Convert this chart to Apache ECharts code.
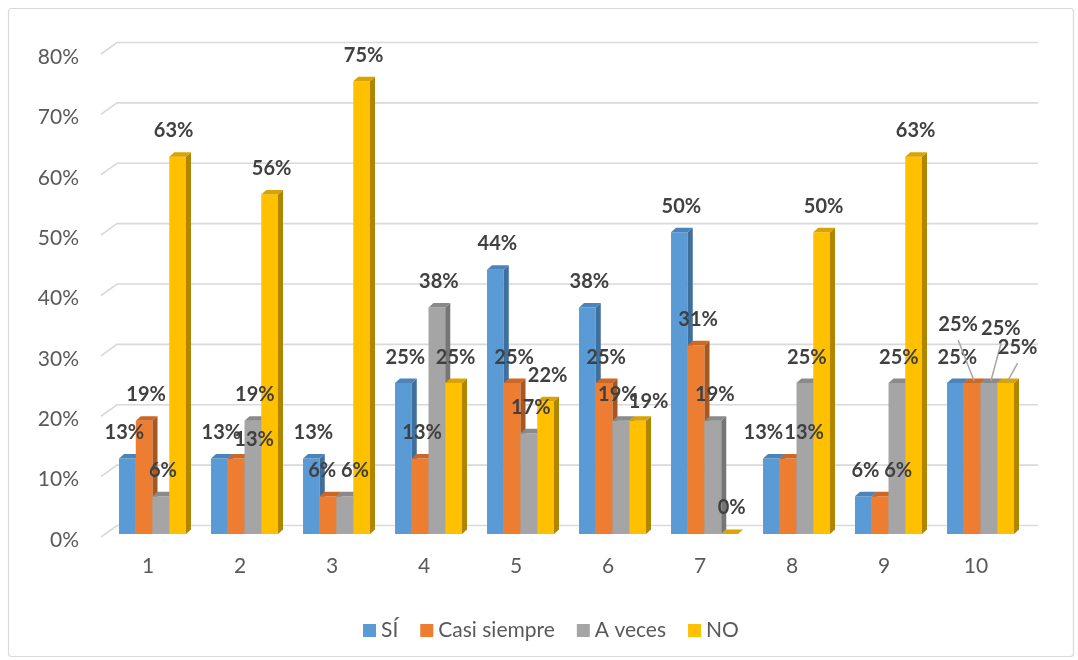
<!DOCTYPE html>
<html>
<head>
<meta charset="utf-8">
<script src="https://cdn.jsdelivr.net/npm/echarts@6/dist/echarts.min.js"></script>
<style>
html,body{margin:0;padding:0;background:#fff;}
#chart{width:1078px;height:660px;}
</style>
</head>
<body>
<div id="chart"></div>
<script>
// ---- data ----
const categories = ['1','2','3','4','5','6','7','8','9','10'];
const seriesNames = ['SÍ','Casi siempre','A veces','NO'];
const si          = [12.5, 12.5, 12.5, 25,   43.75, 37.5,  50,    12.5, 6.25, 25];
const casiSiempre = [18.75,12.5, 6.25, 12.5, 25,    25,    31.25, 12.5, 6.25, 25];
const aVeces      = [6.25, 18.75,6.25, 37.5, 16.7,  18.75, 18.75, 25,   25,   25];
const no          = [62.5, 56.25,75,   25,   22,    18.75, 0,     50,   62.5, 25];
const yTicks      = [0,10,20,30,40,50,60,70,80];

// ---- styles ----
const faceColors = [
  {front:'#5B9BD5', side:'#3F6F9C', top:'#4B83BA'},
  {front:'#ED7D31', side:'#A9561F', top:'#CC6726'},
  {front:'#A5A5A5', side:'#767676', top:'#8A8A8A'},
  {front:'#FFC000', side:'#B08500', top:'#D9A300'}
];
// label nudges (Excel placement), keyed "series-category"
const labelNudge = {
  '0-0':[-5,0], '0-7':[-10,0],
  '1-1':[16,7], '1-2':[-8,0], '1-7':[14,0], '1-8':[16,0], '1-9':[-16,-33,true],
  '2-2':[8,0], '2-5':[-5,0], '2-9':[10,-29,true],
  '3-0':[-6,0], '3-5':[9,7], '3-9':[10,-10,true]
};
const DX = 5, DY = 4.5;
const FONT = 'Lato, "Liberation Sans", sans-serif';

function barGeom(api, sIdx){
  const cat = api.value(0), val = api.value(1);
  const band = api.size([1,0])[0];
  const cx = api.coord([cat,0])[0];
  const base = api.coord([cat,0])[1];
  const top = api.coord([cat,val])[1];
  const w = band*0.182;
  const x0 = cx - band*0.315 + sIdx*w;
  return {cat, val, w, x0, top, base};
}

function barRender(sIdx){
  const c = faceColors[sIdx];
  return function(params, api){
    const g = barGeom(api, sIdx);
    const {x0, w, top, base} = g;
    return {type:'group', children:[
      {type:'rect', shape:{x:x0, y:top, width:w, height:base-top}, style:{fill:c.front}},
      {type:'polygon', shape:{points:[[x0+w,top],[x0+w+DX,top-DY],[x0+w+DX,base-DY],[x0+w,base]]}, style:{fill:c.side}},
      {type:'polygon', shape:{points:[[x0,top],[x0+DX,top-DY],[x0+w+DX,top-DY],[x0+w,top]]}, style:{fill:c.top}}
    ]};
  };
}

function labelRender(sIdx){
  return function(params, api){
    const g = barGeom(api, sIdx);
    const n = labelNudge[sIdx+'-'+g.cat] || [0,0,false];
    const bx = g.x0 + g.w/2 + 2;
    const lx = bx + n[0];
    const ly = g.top - 26 + n[1];
    const children = [];
    if (n[2]) {
      children.push({type:'line', shape:{x1:lx, y1:ly+16, x2:bx, y2:g.top-2},
        style:{stroke:'#A6A6A6', lineWidth:1.5}});
    }
    children.push({type:'text', x:lx, y:ly, style:{
      text: Math.round(g.val)+'%', font:'bold 20px '+FONT, fill:'#404040',
      align:'center', verticalAlign:'middle', textAlign:'center', textVerticalAlign:'middle'}});
    return {type:'group', children};
  };
}

function gridRender(params, api){
  const v = api.value(1);
  const cs = params.coordSys;
  const y = api.coord([0, v])[1];
  const fy = y + 3;
  const by = y - 8.5;
  return {type:'polyline', shape:{points:[[cs.x-1, fy],[cs.x+15, by],[cs.x+cs.width+16, by]]},
    style:{stroke:'#D9D9D9', lineWidth:1.6, fill:null}};
}

const allData = [si, casiSiempre, aVeces, no];
const series = [{
  type:'custom', name:'grid', renderItem: gridRender, z:1, silent:true,
  data: yTicks.map(v=>[0,v]), encode:{x:0,y:1}
}];
allData.forEach((arr, s)=>{
  series.push({type:'custom', name:seriesNames[s], renderItem: barRender(s), z:2,
    itemStyle:{color:faceColors[s].front},
    data: arr.map((v,i)=>[i,v]), encode:{x:0,y:1}});
});
allData.forEach((arr, s)=>{
  series.push({type:'custom', name:'lbl'+s, renderItem: labelRender(s), z:3, silent:true,
    data: arr.map((v,i)=>[i,v]), encode:{x:0,y:1}});
});

const chart = echarts.init(document.getElementById('chart'), null, {renderer:'canvas'});
chart.setOption({
  animation:false,
  backgroundColor:'#fff',
  textStyle:{fontFamily:FONT},
  graphic:[{type:'rect', left:6, top:6, shape:{width:1065, height:648, r:3},
    style:{fill:null, stroke:'#D9D9D9', lineWidth:1.2}, z:0}],
  grid:{left:102, right:56, top:51, bottom:126, containLabel:false},
  xAxis:{type:'category', data:categories,
    axisLine:{show:false}, axisTick:{show:false}, splitLine:{show:false},
    axisLabel:{fontSize:21, color:'#595959', margin:22, fontFamily:FONT}},
  yAxis:{type:'value', min:0, max:80, interval:10,
    axisLine:{show:false}, axisTick:{show:false}, splitLine:{show:false},
    axisLabel:{formatter:'{a|{value}%}', margin:23,
      rich:{a:{fontSize:21, color:'#595959', fontFamily:FONT, padding:[12,0,0,0]}}}},
  legend:{data:seriesNames, left:358, top:615, icon:'rect', itemWidth:13, itemHeight:13,
    itemGap:22, textStyle:{fontSize:21, color:'#595959', fontFamily:FONT}},
  series
});
</script>
</body>
</html>
